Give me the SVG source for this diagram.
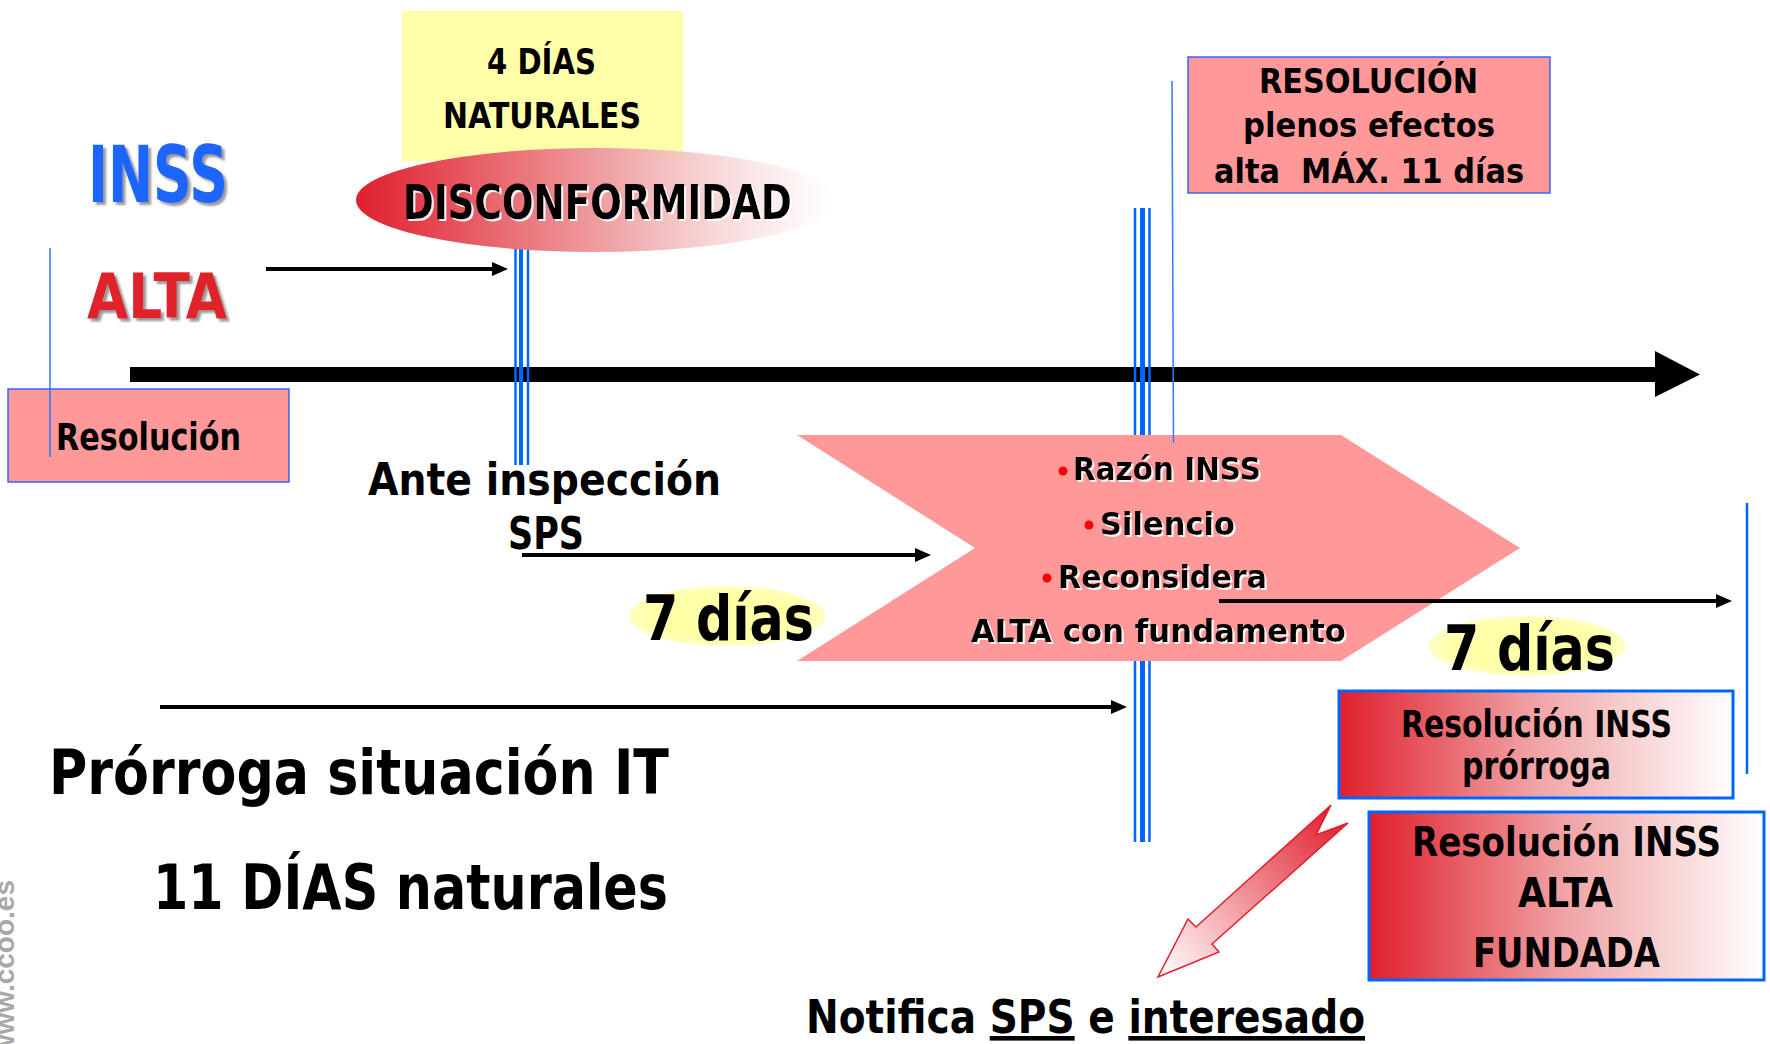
<svg xmlns="http://www.w3.org/2000/svg" width="1770" height="1044" viewBox="0 0 1770 1044">
<style>
text{font-family:"DejaVu Sans","Liberation Sans",sans-serif;fill:#000;font-weight:bold}
.pink{fill:#ff9999;stroke:#3366ff;stroke-width:1.5}
.gbox{stroke:#0066ff;stroke-width:3}
.conn{stroke:#000;stroke-width:4;fill:none}
.thin{stroke:#3377ff;stroke-width:1.5;fill:none}
.tb{stroke:#0066ff;fill:none}
</style>
<defs>
<marker id="ah" viewBox="0 0 10 10" refX="0" refY="5" markerWidth="16" markerHeight="14" markerUnits="userSpaceOnUse" orient="auto" preserveAspectRatio="none"><path d="M0,0 L10,5 L0,10 z" fill="#000"/></marker>
<linearGradient id="gEll" x1="0" y1="0" x2="1" y2="0"><stop offset="0" stop-color="#e01f2d"/><stop offset="0.55" stop-color="#f0a8aa"/><stop offset="1" stop-color="#ffffff" stop-opacity="0.6"/></linearGradient>
<linearGradient id="gBox" x1="0" y1="0" x2="1" y2="0"><stop offset="0" stop-color="#e01f2d"/><stop offset="0.5" stop-color="#f0a4a6"/><stop offset="1" stop-color="#ffffff"/></linearGradient>
<linearGradient id="gArr" gradientUnits="userSpaceOnUse" x1="1340" y1="814" x2="1160" y2="976"><stop offset="0" stop-color="#e01f2d"/><stop offset="1" stop-color="#ffffff"/></linearGradient>
<radialGradient id="gYel"><stop offset="0.75" stop-color="#ffffa8"/><stop offset="1" stop-color="#ffffa8" stop-opacity="0.7"/></radialGradient>
<filter id="sg" x="-10%" y="-20%" width="130%" height="150%"><feDropShadow dx="3" dy="3" stdDeviation="1" flood-color="#808080" flood-opacity="0.8"/></filter>
<filter id="sw" x="-10%" y="-20%" width="130%" height="150%"><feDropShadow dx="2" dy="2" stdDeviation="0.6" flood-color="#ffffff" flood-opacity="0.9"/></filter>
</defs>

<g id="watermark"><text transform="translate(14,880) rotate(-90)" x="0" y="0" text-anchor="end" style="font-family:'Liberation Sans',Arial,sans-serif;font-size:28px;fill:#a8a8a8">www.ccoo.es</text></g>

<g id="yellow-box"><rect x="402" y="11" width="281" height="150" fill="#ffffaa"/>
<text x="487" y="74" font-size="36" textLength="109" lengthAdjust="spacingAndGlyphs">4 DÍAS</text>
<text x="443" y="128" font-size="36" textLength="198" lengthAdjust="spacingAndGlyphs">NATURALES</text></g>

<g id="inss"><text x="88" y="202" font-size="78" style="fill:#1a66ff" filter="url(#sg)" textLength="140" lengthAdjust="spacingAndGlyphs">INSS</text></g>
<g id="alta"><text x="87" y="318" font-size="63" style="fill:#e0202c" filter="url(#sg)" textLength="140" lengthAdjust="spacingAndGlyphs">ALTA</text></g>

<g id="timeline"><rect x="130" y="367" width="1527" height="15" fill="#000"/><polygon points="1655,351 1700,374.5 1655,397" fill="#000"/></g>

<g id="markers">
<line class="thin" x1="50" y1="248" x2="50" y2="457"/>
<g id="triple-left"><line class="tb" x1="515.5" y1="240" x2="515.5" y2="465" stroke-width="2.5"/><line class="tb" x1="521" y1="240" x2="521" y2="465" stroke-width="4"/><line class="tb" x1="528" y1="240" x2="528" y2="465" stroke-width="2.5"/></g>
<g id="triple-right"><line class="tb" x1="1135" y1="208" x2="1135" y2="842" stroke-width="2.5"/><line class="tb" x1="1142.5" y1="208" x2="1142.5" y2="842" stroke-width="5"/><line class="tb" x1="1149.5" y1="208" x2="1149.5" y2="842" stroke-width="2.5"/></g>
<line x1="1747" y1="503" x2="1747" y2="774" stroke="#0066ff" stroke-width="2.5"/>
</g>

<g id="disconformidad"><ellipse cx="596" cy="200" rx="240" ry="52" fill="url(#gEll)"/>
<text x="403" y="219" font-size="48" filter="url(#sw)" textLength="389" lengthAdjust="spacingAndGlyphs">DISCONFORMIDAD</text></g>

<g id="resolucion-left"><rect class="pink" x="8" y="389" width="281" height="93"/>
<text x="56" y="450" font-size="37" textLength="185" lengthAdjust="spacingAndGlyphs">Resolución</text></g>
<line class="thin" x1="50" y1="389" x2="50" y2="457"/>

<g id="ante-inspeccion"><text x="368" y="495" font-size="45" textLength="353" lengthAdjust="spacingAndGlyphs">Ante inspección</text>
<text x="508" y="549" font-size="45" textLength="76" lengthAdjust="spacingAndGlyphs">SPS</text></g>

<g id="chevron"><polygon points="797,435 1341,435 1520,548 1341,661 797,661 975,548" fill="#ff9999"/>
<circle cx="1063" cy="471" r="4.5" fill="#ff0000"/><text x="1073" y="480" font-size="32" filter="url(#sw)" textLength="188" lengthAdjust="spacingAndGlyphs">Razón INSS</text>
<circle cx="1089" cy="525" r="4.5" fill="#ff0000"/><text x="1100" y="535" font-size="32" filter="url(#sw)" textLength="135" lengthAdjust="spacingAndGlyphs">Silencio</text>
<circle cx="1047" cy="578" r="4.5" fill="#ff0000"/><text x="1058" y="588" font-size="32" filter="url(#sw)" textLength="209" lengthAdjust="spacingAndGlyphs">Reconsidera</text>
<text x="971" y="642" font-size="32" filter="url(#sw)" textLength="375" lengthAdjust="spacingAndGlyphs">ALTA con fundamento</text></g>

<line class="thin" x1="1172" y1="81" x2="1173.5" y2="443"/>

<g id="resolucion-plenos"><rect class="pink" x="1188" y="57" width="362" height="136"/>
<text x="1259" y="93" font-size="34" textLength="219" lengthAdjust="spacingAndGlyphs">RESOLUCIÓN</text>
<text x="1243" y="137" font-size="34" textLength="252" lengthAdjust="spacingAndGlyphs">plenos efectos</text>
<text x="1214" y="183" font-size="34" xml:space="preserve" textLength="310" lengthAdjust="spacingAndGlyphs">alta  MÁX. 11 días</text></g>

<g id="siete-dias-1"><ellipse cx="727" cy="616" rx="98" ry="30" fill="url(#gYel)"/>
<text x="643" y="640" font-size="63" textLength="171" lengthAdjust="spacingAndGlyphs">7 días</text></g>
<g id="siete-dias-2"><ellipse cx="1527" cy="646" rx="98" ry="30" fill="url(#gYel)"/>
<text x="1444" y="670" font-size="63" textLength="171" lengthAdjust="spacingAndGlyphs">7 días</text></g>

<g id="connectors">
<line class="conn" x1="266" y1="269" x2="492" y2="269" stroke-width="3.5" marker-end="url(#ah)"/>
<line class="conn" x1="522" y1="555" x2="915" y2="555" stroke-width="4.5" marker-end="url(#ah)"/>
<line class="conn" x1="160" y1="707" x2="1111" y2="707" stroke-width="4.5" marker-end="url(#ah)"/>
<line class="conn" x1="1219" y1="601" x2="1716" y2="601" stroke-width="3.5" marker-end="url(#ah)"/>
<polygon id="notch-arrow" points="1331,805 1196,927 1188,919 1158,977 1219,952 1212,944 1348,823 1316,835" fill="url(#gArr)" stroke="#e0202c" stroke-width="1.5" stroke-linejoin="miter"/>
</g>

<g id="res-prorroga"><rect class="gbox" x="1339" y="691" width="394" height="107" fill="url(#gBox)"/>
<text x="1401" y="737" font-size="37" textLength="271" lengthAdjust="spacingAndGlyphs">Resolución INSS</text>
<text x="1462" y="779" font-size="37" textLength="149" lengthAdjust="spacingAndGlyphs">prórroga</text></g>

<g id="res-alta-fundada"><rect class="gbox" x="1369" y="812" width="395" height="168" fill="url(#gBox)"/>
<text x="1412" y="856" font-size="40" textLength="309" lengthAdjust="spacingAndGlyphs">Resolución INSS</text>
<text x="1518" y="907" font-size="40" textLength="95" lengthAdjust="spacingAndGlyphs">ALTA</text>
<text x="1473" y="967" font-size="40" textLength="187" lengthAdjust="spacingAndGlyphs">FUNDADA</text></g>

<g id="prorroga"><text x="49" y="794" font-size="63" textLength="620" lengthAdjust="spacingAndGlyphs">Prórroga situación IT</text>
<text x="153" y="909" font-size="63" textLength="515" lengthAdjust="spacingAndGlyphs">11 DÍAS naturales</text></g>

<g id="notifica"><text x="806" y="1033" font-size="46" textLength="559" lengthAdjust="spacingAndGlyphs">Notifica <tspan text-decoration="underline">SPS</tspan> e <tspan text-decoration="underline">interesado</tspan></text></g>
</svg>
